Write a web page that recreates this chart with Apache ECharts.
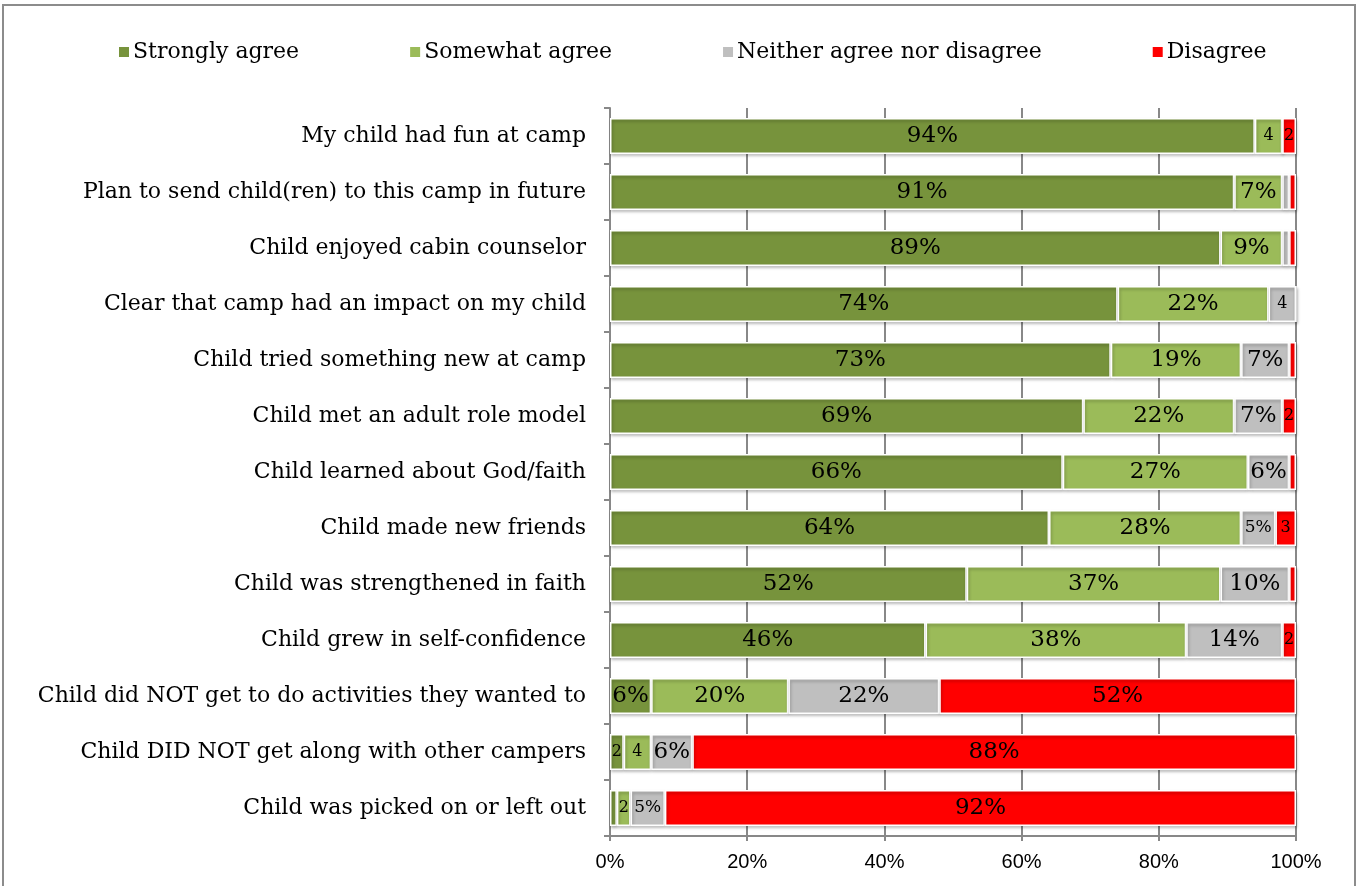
<!DOCTYPE html>
<html>
<head>
<meta charset="utf-8">
<script src="https://cdn.jsdelivr.net/npm/echarts@6/dist/echarts.min.js"></script>
<style>
  html, body { margin: 0; padding: 0; background: #fff; }
  #frame { position: absolute; left: 2px; top: 4px; width: 1354px; height: 890px; border: 2px solid #8c8c8c; box-sizing: border-box; }
  #chart { position: absolute; left: 0; top: 0; width: 1360px; height: 886px; }
</style>
</head>
<body>
<div id="frame"></div>
<div id="chart"></div>
<script>
// Survey statements (top to bottom)
const categories = [
  'My child had fun at camp',
  'Plan to send child(ren) to this camp in future',
  'Child enjoyed cabin counselor',
  'Clear that camp had an impact on my child',
  'Child tried something new at camp',
  'Child met an adult role model',
  'Child learned about God/faith',
  'Child made new friends',
  'Child was strengthened in faith',
  'Child grew in self-confidence',
  'Child did NOT get to do activities they wanted to',
  'Child DID NOT get along with other campers',
  'Child was picked on or left out'
];

// Percent of parents giving each response
const stronglyAgree = [94, 91, 89, 74, 73, 69, 66, 64, 52, 46, 6, 2, 1];
const somewhatAgree = [4, 7, 9, 22, 19, 22, 27, 28, 37, 38, 20, 4, 2];
const neither       = [0, 1, 1, 4, 7, 7, 6, 5, 10, 14, 22, 6, 5];
const disagree      = [2, 1, 1, 0, 1, 2, 1, 3, 1, 2, 52, 88, 92];

const seriesNames = ['Strongly agree', 'Somewhat agree', 'Neither agree nor disagree', 'Disagree'];
const xTicks = ['0%', '20%', '40%', '60%', '80%', '100%'];

const colors = ['#77933C', '#9BBB59', '#BFBFBF', '#FF0000'];
const SERIF = 'DejaVu Serif';
const SANS = 'Liberation Sans';

// Tiny segments get a bare number or no label; the rest show a percentage
function segLabel(v) {
  if (v <= 1) return '';
  if (v < 5) return String(v);
  return v + '%';
}
function segSize(v) {
  if (v < 5) return 16;
  if (v < 6) return 17;
  return 23;
}

function makeSeries(name, values, color) {
  return {
    name: name,
    type: 'bar',
    stack: 'total',
    barWidth: '64%',
    data: values.map(v => ({
      value: v,
      label: { show: v > 1, formatter: segLabel(v), fontSize: segSize(v) }
    })),
    itemStyle: {
      color: color,
      borderColor: '#ffffff',
      borderWidth: 1.5,
      shadowBlur: 3,
      shadowOffsetY: 2,
      shadowOffsetX: 1,
      shadowColor: 'rgba(0,0,0,0.28)'
    },
    label: {
      position: 'inside',
      color: '#000',
      fontFamily: SERIF
    }
  };
}

const chart = echarts.init(document.getElementById('chart'), null, { renderer: 'canvas' });
chart.setOption({
  animation: false,
  color: colors,
  legend: {
    top: 36,
    left: 112,
    itemWidth: 12,
    itemHeight: 12,
    itemGap: 109,
    icon: 'rect',
    textStyle: { fontFamily: SERIF, fontSize: 22, color: '#000', padding: [0, 0, 0, -2] },
    data: seriesNames
  },
  grid: { left: 610, right: 64, top: 108, bottom: 50 },
  xAxis: {
    type: 'value',
    min: 0,
    max: 100,
    interval: 20,
    axisLine: { show: true, lineStyle: { color: '#888', width: 2 } },
    axisTick: { show: true, length: 5, lineStyle: { color: '#888', width: 2 } },
    splitLine: { show: true, lineStyle: { color: '#888', width: 2 } },
    axisLabel: {
      fontFamily: SANS, fontSize: 20, color: '#000', margin: 16,
      formatter: v => xTicks[Math.round(v / 20)]
    }
  },
  yAxis: {
    type: 'category',
    inverse: true,
    data: categories,
    axisLine: { show: true, lineStyle: { color: '#888', width: 2 } },
    axisTick: { show: true, length: 6, lineStyle: { color: '#888', width: 2 } },
    axisLabel: { fontFamily: SERIF, fontSize: 22, color: '#000', margin: 24 }
  },
  series: [
    makeSeries(seriesNames[0], stronglyAgree, colors[0]),
    makeSeries(seriesNames[1], somewhatAgree, colors[1]),
    makeSeries(seriesNames[2], neither, colors[2]),
    makeSeries(seriesNames[3], disagree, colors[3])
  ]
});
</script>
</body>
</html>
